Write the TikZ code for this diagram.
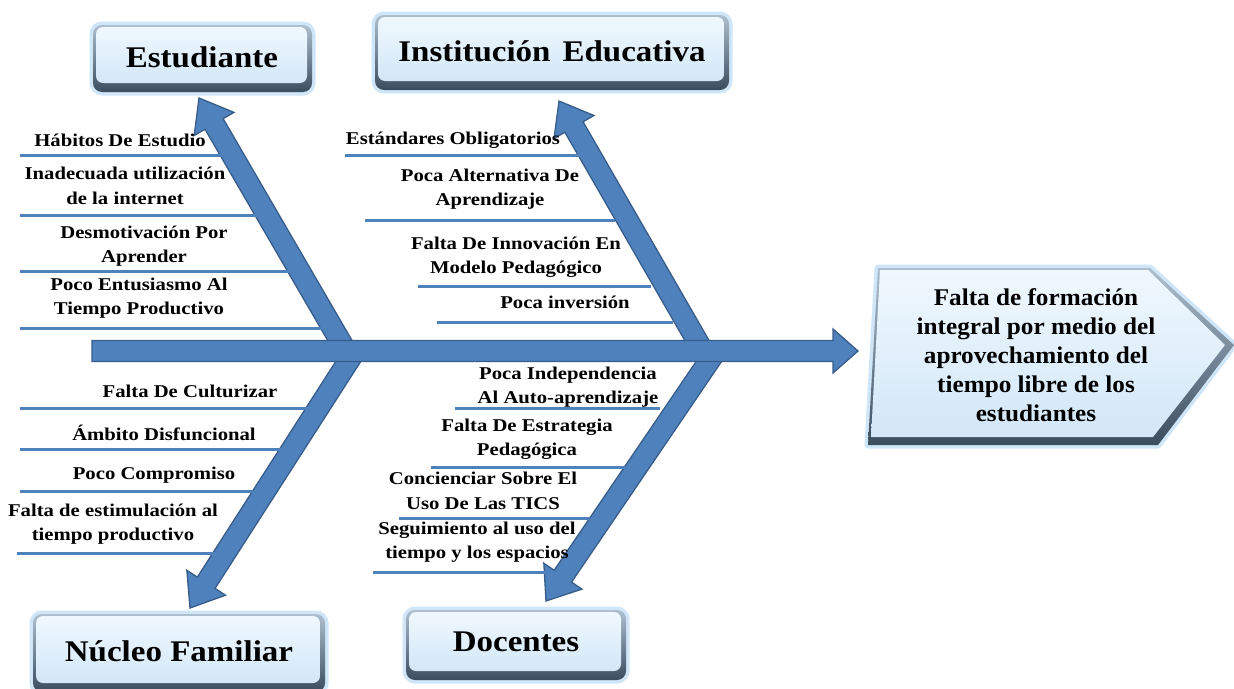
\documentclass[tikz,border=0pt]{standalone}
\usepackage{fontspec}
\setmainfont{Liberation Serif}
\newfontfamily\lblfont[FakeStretch=1.15]{Liberation Serif}
\newfontfamily\ttlfont[FakeStretch=1.1]{Liberation Serif}
\newfontfamily\hdfont[FakeStretch=1.05]{Liberation Serif}
\usetikzlibrary{calc}
\definecolor{arrfill}{HTML}{4F81BD}
\definecolor{arredge}{HTML}{385D8A}
\definecolor{glowc}{HTML}{BFDDF6}
\definecolor{facetop}{HTML}{F0F8FE}
\definecolor{facebot}{HTML}{D2E7F8}
\definecolor{frametop}{HTML}{AEBFCF}
\definecolor{framebot}{HTML}{3A4D5F}
\newcommand\blockarrow[5]{% A B halfw halfhw headlen
  \coordinate (#1#2h) at ($(#2)!#5!(#1)$);
  \filldraw[arr] ($(#1)!#3!90:(#2)$) -- ($(#1#2h)!#3!90:(#2)$) -- ($(#1#2h)!#4!90:(#2)$) -- (#2)
    -- ($(#1#2h)!#4!-90:(#2)$) -- ($(#1#2h)!#3!-90:(#2)$) -- ($(#1)!#3!-90:(#2)$) -- cycle;}
\tikzset{
  arr/.style={fill=arrfill, draw=arredge, line width=1.3pt, line join=miter},
  bone/.style={draw=arrfill, line width=3pt},
  lbl/.style={font=\lblfont\fontsize{18}{24.5}\selectfont\bfseries, align=center, inner sep=0pt},
  ttl/.style={font=\ttlfont\fontsize{30}{34}\selectfont\bfseries, inner sep=0pt},
  headtxt/.style={font=\hdfont\fontsize{24}{29}\selectfont\bfseries, align=center, inner sep=0pt},
  glowsty/.style={draw=glowc, line width=7pt, opacity=0.75, rounded corners=9pt},
  framesty/.style={top color=frametop, bottom color=framebot, draw=none, rounded corners=9pt},
  facesty/.style={top color=facetop, bottom color=facebot, draw=none, rounded corners=7pt},
}
\begin{document}
\begin{tikzpicture}[x=1pt,y=-1pt]
\useasboundingbox (0,0) rectangle (1234,688);
% ---------- title boxes ----------
% Estudiante
\draw[glowsty] (93,25) rectangle (312,92);
\path[framesty] (93,25) rectangle (312,92);
\path[facesty] (96,27) rectangle (307,83);
\node[ttl] (est) at (202,57) {Estudiante};
% Institucion
\draw[glowsty] (375,15) rectangle (729,90);
\path[framesty] (375,15) rectangle (729,90);
\path[facesty] (378,17) rectangle (724,81);
\node[ttl] (ins) at (552,51) {Instituci\'on\hspace{12pt}Educativa};
% Nucleo
\draw[glowsty] (33,614) rectangle (325,692);
\path[framesty] (33,614) rectangle (325,692);
\path[facesty] (36,616) rectangle (320,683);
\node[ttl] (nuc) at (179,651) {N\'ucleo Familiar};
% Docentes
\draw[glowsty] (406,610) rectangle (626,680);
\path[framesty] (406,610) rectangle (626,680);
\path[facesty] (409,612) rectangle (621,671);
\node[ttl] (doc) at (516,642) {Docentes};
% ---------- head ----------
\draw[draw=glowc, line width=7pt, opacity=0.75, line join=round] (878,268) -- (1150,268) -- (1234,345) -- (1158,445) -- (868,445) -- cycle;
\path[top color=frametop, bottom color=framebot] (878,268) -- (1150,268) -- (1234,345) -- (1158,445) -- (868,445) -- cycle;
\path[top color=facetop, bottom color=facebot] (880,270) -- (1148,270) -- (1225,345) -- (1153,437) -- (871,437) -- cycle;
\node[headtxt] (eff) at (1036,355) {Falta de formaci\'on\\integral por medio del\\aprovechamiento del\\tiempo libre de los\\estudiantes};
% ---------- bones ----------
\coordinate (eA) at (346,351); \coordinate (eB) at (199,98);
\coordinate (iA) at (703,351); \coordinate (iB) at (559,101);
\coordinate (nA) at (355,351); \coordinate (nB) at (190,608);
\coordinate (dA) at (716,351); \coordinate (dB) at (546,601);
\blockarrow{eA}{eB}{10.5pt}{23pt}{30pt}
\blockarrow{iA}{iB}{10.5pt}{23pt}{30pt}
\blockarrow{nA}{nB}{10.5pt}{23pt}{30pt}
\blockarrow{dA}{dB}{10.5pt}{23pt}{30pt}
\coordinate (sA) at (92,351); \coordinate (sB) at (858,351);
\blockarrow{sA}{sB}{10.5pt}{22pt}{25pt}
% ---------- cause lines: Estudiante ----------
\draw[bone] (20,155) -- (226,155);
\draw[bone] (20,215) -- (257,215);
\draw[bone] (20,271) -- (290,271);
\draw[bone] (20,328) -- (322,328);
\node[lbl] (e1) at (120,140) {H\'abitos De Estudio};
\node[lbl] (e2) at (125,186) {Inadecuada utilizaci\'on\\de la internet};
\node[lbl] (e3) at (144,246) {Desmotivaci\'on Por\\Aprender};
\node[lbl] (e4) at (139,298) {Poco Entusiasmo Al\\Tiempo Productivo};
% ---------- Institucion ----------
\draw[bone] (345,155) -- (580,155);
\draw[bone] (365,220) -- (615,220);
\draw[bone] (418,286) -- (651,286);
\draw[bone] (437,322) -- (673,322);
\node[lbl] (i1) at (453,140) {Est\'andares Obligatorios};
\node[lbl] (i2) at (490,189) {Poca Alternativa De\\Aprendizaje};
\node[lbl] (i3) at (516,257) {Falta De Innovaci\'on En\\Modelo Pedag\'ogico};
\node[lbl] (i4) at (565,302) {Poca inversi\'on};
% ---------- Nucleo ----------
\draw[bone] (20,408) -- (310,408);
\draw[bone] (20,449) -- (282,449);
\draw[bone] (20,491) -- (253,491);
\draw[bone] (17,553) -- (215,553);
\node[lbl] (n1) at (190,391) {Falta De Culturizar};
\node[lbl] (n2) at (164,433) {\'Ambito Disfuncional};
\node[lbl] (n3) at (154,475) {Poco Compromiso};
\node[lbl] (n4) at (113,524) {Falta de estimulaci\'on al\\tiempo productivo};
% ---------- Docentes ----------
\draw[bone] (455,408) -- (660,408);
\draw[bone] (431,467) -- (625,467);
\draw[bone] (399,518) -- (590,518);
\draw[bone] (373,572) -- (555,572);
\node[lbl] (d1) at (568,387) {Poca Independencia\\Al Auto-aprendizaje};
\node[lbl] (d2) at (527,439) {Falta De Estrategia\\Pedag\'ogica};
\node[lbl] (d3) at (483,491) {Concienciar Sobre El\\Uso De Las TICS};
\node[lbl] (d4) at (477,542) {Seguimiento al uso del\\tiempo y los espacios};
\end{tikzpicture}
\end{document}
